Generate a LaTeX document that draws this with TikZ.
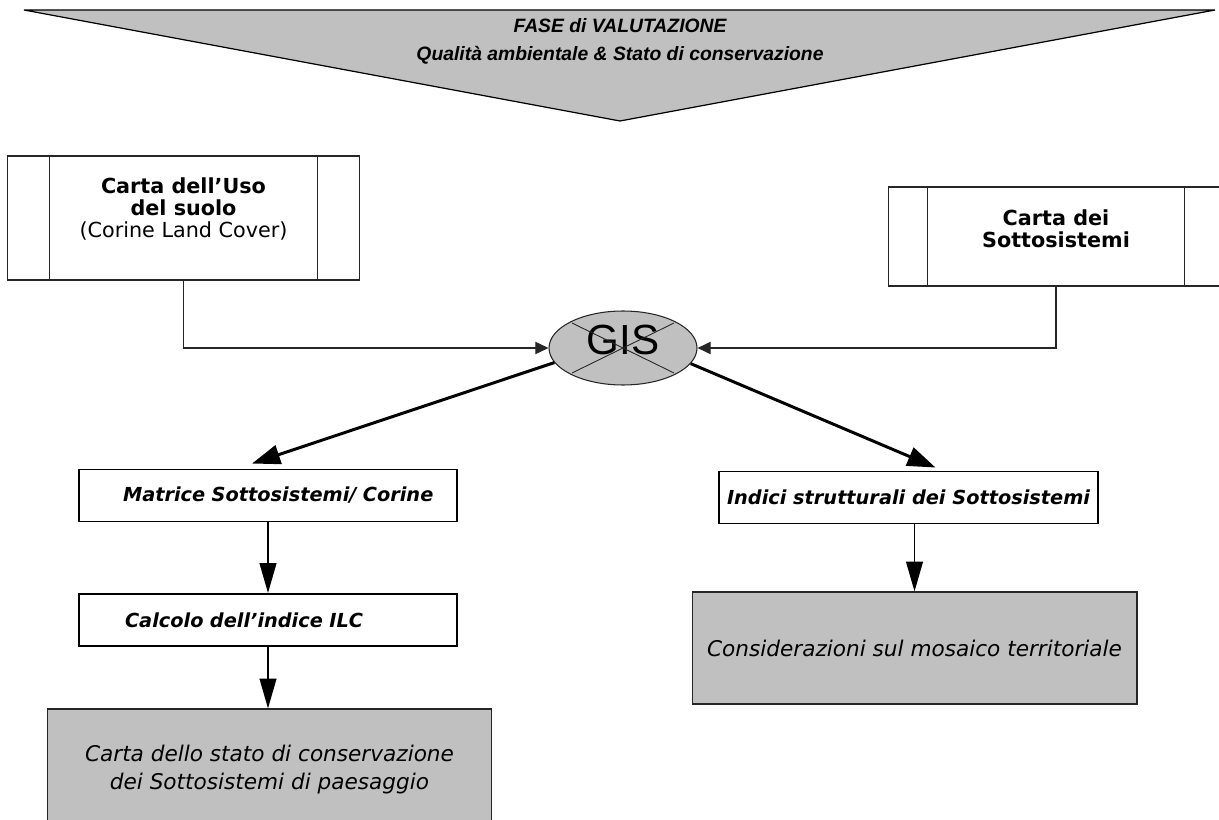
\documentclass[tikz,border=0pt]{standalone}
\usepackage{fontspec}
\setmainfont{DejaVu Sans}
\newfontfamily\arialfont{Liberation Sans}
\usetikzlibrary{arrows.meta,calc,shapes.geometric}

\definecolor{boxgray}{HTML}{C0C0C0}

\begin{document}
\begin{tikzpicture}[x=0.02cm, y=-0.02cm,
    mapbox/.style={draw=black!85, line width=0.6pt, fill=white, align=center,
        font=\bfseries\fontsize{11.8}{12.5}\selectfont},
    stepbox/.style={draw=black, line width=1.1pt, fill=white, minimum width=7.56cm,
        minimum height=1.04cm, font=\bfseries\itshape\fontsize{11}{13}\selectfont},
    resultbox/.style={draw=black!85, line width=0.6pt, fill=boxgray, align=center,
        minimum width=8.9cm, font=\itshape\fontsize{12.3}{16}\selectfont},
    thinarrow/.style={draw=black!85, line width=0.6pt, -{Triangle[length=7.5pt, width=7pt]}},
    bigarrow/.style={line width=1.7pt, -{Triangle[length=16pt, width=11pt]}},
    midarrow/.style={line width=1.1pt, -{Triangle[length=17pt, width=9.5pt]}}
]
    \useasboundingbox (0,0) rectangle (1219,820);

    % Phase banner
    \filldraw[fill=boxgray, draw=black, line width=0.7pt] (24,10) -- (1215,10) -- (620,121) -- cycle;
    \node[align=center, font=\arialfont\bfseries\itshape\fontsize{11}{16}\selectfont] (fase) at (620,41)
        {FASE di VALUTAZIONE\\Qualità ambientale \& Stato di conservazione};

    % Input maps
    \node[mapbox, minimum width=7.06cm, minimum height=2.48cm, text depth=12pt] (uso) at (183.5,218)
        {Carta dell’Uso\\del suolo\\{\mdseries (Corine Land Cover)}};
    \draw[black!85, line width=0.6pt] ($(uso.north west)+(43,0)$) -- ($(uso.south west)+(43,0)$);
    \draw[black!85, line width=0.6pt] ($(uso.north east)+(-43,0)$) -- ($(uso.south east)+(-43,0)$);

    \node[mapbox, minimum width=6.72cm, minimum height=1.98cm, text depth=9.5pt] (sotto) at (1056,236.5)
        {Carta dei\\Sottosistemi};
    \draw[black!85, line width=0.6pt] ($(sotto.north west)+(40,0)$) -- ($(sotto.south west)+(40,0)$);
    \draw[black!85, line width=0.6pt] ($(sotto.north east)+(-40,0)$) -- ($(sotto.south east)+(-40,0)$);

    % GIS
    \node[ellipse, draw=black!85, line width=0.6pt, fill=boxgray, minimum width=2.96cm,
        minimum height=1.48cm, inner sep=0pt, text depth=9pt,
        font=\arialfont\fontsize{24}{24}\selectfont] (gis) at (623,348) {GIS};
    \draw[black!85, line width=0.5pt] ($(gis)+(-51,-25)$) -- ($(gis)+(51,25)$);
    \draw[black!85, line width=0.5pt] ($(gis)+(-51,25)$) -- ($(gis)+(51,-25)$);

    \draw[thinarrow] (uso.south) |- (gis.west);
    \draw[thinarrow] (sotto.south) |- (gis.east);

    % Left branch
    \node[stepbox, text width=7.4cm, inner xsep=0.08cm, align=left] (matrice) at (268,495.5)
        {\hspace*{0.8cm}Matrice Sottosistemi/ Corine};
    \node[stepbox, text width=7.4cm, inner xsep=0.08cm, align=left] (calcolo) at (268,620)
        {\hspace*{0.84cm}Calcolo dell’indice ILC};
    \node[resultbox, minimum height=2.42cm] (carta) at (269.5,769.5)
        {Carta dello stato di conservazione\\dei Sottosistemi di paesaggio};

    \draw[bigarrow] (gis.192) -- ($(matrice.north)+(-16,-5)$);
    \draw[midarrow] (matrice.south) -- (calcolo.north);
    \draw[midarrow] (calcolo.south) -- (calcolo.south |- carta.north);

    % Right branch
    \node[stepbox, minimum width=7.58cm, inner xsep=2pt] (indici) at (908.5,497.5)
        {Indici strutturali dei Sottosistemi};
    \node[resultbox, minimum height=2.24cm] (mosaico) at (914.5,648)
        {Considerazioni sul mosaico territoriale};

    \draw[bigarrow] (gis.-13) -- ($(indici.north)+(27,-3)$);
    \draw[midarrow] (mosaico.north |- indici.south) -- (mosaico.north);
\end{tikzpicture}
\end{document}
